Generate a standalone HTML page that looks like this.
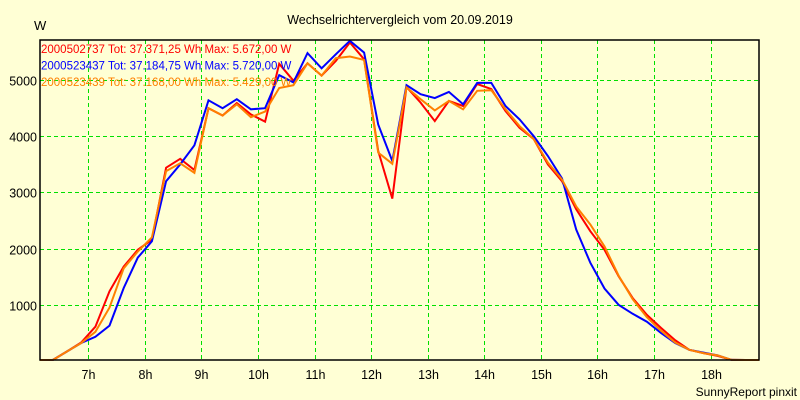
<!DOCTYPE html>
<html><head><meta charset="utf-8"><style>
body{margin:0;background:#ffffd5;}
svg{display:block;font-family:"Liberation Sans",sans-serif;}
</style></head><body>
<svg id="chart" width="800" height="400" viewBox="0 0 800 400">
<rect x="0" y="0" width="800" height="400" fill="#ffffd5"/>
<text x="400" y="24" text-anchor="middle" font-size="12.5" fill="#000">Wechselrichtervergleich vom 20.09.2019</text>
<text x="34" y="30" font-size="13" fill="#000">W</text>
<text x="797" y="396" text-anchor="end" font-size="12" fill="#000">SunnyReport pinxit</text>
<g id="grid"></g>
<g id="ticks"></g>
<g id="series"></g>
<rect x="40" y="40" width="719" height="320" fill="none" stroke="#000" stroke-width="1.5"/>
<g id="legend"></g>
</svg>
<script>
const hourTicks = [7,8,9,10,11,12,13,14,15,16,17,18];
const valueTicks = [1000,2000,3000,4000,5000];
const times = [6.125,6.375,6.625,6.875,7.125,7.375,7.625,7.875,8.125,8.375,8.625,8.875,9.125,9.375,9.625,9.875,10.125,10.375,10.625,10.875,11.125,11.375,11.625,11.875,12.125,12.375,12.625,12.875,13.125,13.375,13.625,13.875,14.125,14.375,14.625,14.875,15.125,15.375,15.625,15.875,16.125,16.375,16.625,16.875,17.125,17.375,17.625,17.875,18.125,18.375,18.625,18.875];
const redVals = [0,20,170,330,610,1240,1680,1980,2160,3440,3600,3400,4500,4370,4590,4390,4260,5290,4990,5300,5080,5340,5670,5370,3740,2890,4880,4600,4270,4630,4540,4930,4840,4450,4150,3950,3500,3200,2700,2310,1980,1510,1120,820,590,370,200,140,90,20,0,0];
const blueVals = [0,20,170,320,430,630,1300,1840,2130,3200,3500,3840,4640,4500,4660,4480,4500,5090,4960,5480,5210,5460,5700,5490,4210,3560,4910,4750,4680,4790,4570,4950,4950,4540,4300,4000,3650,3250,2340,1750,1290,1000,840,700,500,320,200,150,100,20,0,0];
const orangeVals = [0,20,170,320,520,950,1650,1950,2200,3380,3520,3350,4500,4370,4570,4340,4440,4860,4910,5300,5080,5390,5420,5360,3710,3510,4870,4660,4460,4630,4480,4810,4820,4480,4180,3950,3530,3230,2750,2430,2040,1520,1100,780,540,330,200,140,100,20,0,0];
const seriesNames = ["2000502737","2000523437","2000523439"];
const legendLabels = ["2000502737 Tot: 37.371,25 Wh Max: 5.672,00 W","2000523437 Tot: 37.184,75 Wh Max: 5.720,00 W","2000523439 Tot: 37.168,00 Wh Max: 5.429,00 W"];
const seriesColors = ["#ff0000","#0000ff","#ff8000"];
const seriesData = [redVals, blueVals, orangeVals];

const X0=40, X1=759, Y0=360, Y1=40;
const tMin=6.146, tMax=18.857, vMax=5714;
function xScale(t){ return X0 + (t - tMin) / (tMax - tMin) * (X1 - X0); }
function yScale(v){ const y = Y0 + 1 - v / vMax * (Y0 - Y1 + 1); return Math.max(Y1, Math.min(Y0, y)); }
const NS="http://www.w3.org/2000/svg";
function mk(tag, attrs, parent){ const e=document.createElementNS(NS,tag); for(const k in attrs) e.setAttribute(k,attrs[k]); parent.appendChild(e); return e; }

const grid=document.getElementById('grid'), ticks=document.getElementById('ticks');
hourTicks.forEach(h=>{
  const x=Math.round(xScale(h))+0.5;
  const l=mk('line',{x1:x,x2:x,y1:Y1,y2:Y0,stroke:'#00e000','stroke-width':1,'stroke-dasharray':'4,3'},grid);
  
  
  const t=mk('text',{x:x,y:379,'text-anchor':'middle','font-size':12.5,fill:'#000'},ticks);
  t.textContent=h+'h';
  
  
});
valueTicks.forEach(v=>{
  const y=Math.round(yScale(v))+0.5;
  const l=mk('line',{x1:X0,x2:X1,y1:y,y2:y,stroke:'#00e000','stroke-width':1,'stroke-dasharray':'4,3'},grid);
  
  
  const t=mk('text',{x:37,y:y+5,'text-anchor':'end','font-size':12.5,fill:'#000'},ticks);
  t.textContent=v;
  
  
});
const sg=document.getElementById('series');
seriesData.forEach((vals,i)=>{
  const pts=[[X0,yScale(0)]];
  vals.forEach((v,k)=>{ pts.push([xScale(times[k]),yScale(v)]); });
  const clipped=pts.map(p=>[Math.max(X0,Math.min(X1,p[0])),p[1]]);
  const p=mk('polyline',{points:clipped.map(p=>p[0].toFixed(1)+','+p[1].toFixed(1)).join(' '),fill:'none',stroke:seriesColors[i],'stroke-width':2,'stroke-linejoin':'miter'},sg);
  
  
});
const lg=document.getElementById('legend');
legendLabels.forEach((s,i)=>{
  const t=mk('text',{x:41,y:53+i*16.5,'font-size':11.5,fill:seriesColors[i]},lg);
  t.textContent=s;
  
  
});
</script>
</body></html>
